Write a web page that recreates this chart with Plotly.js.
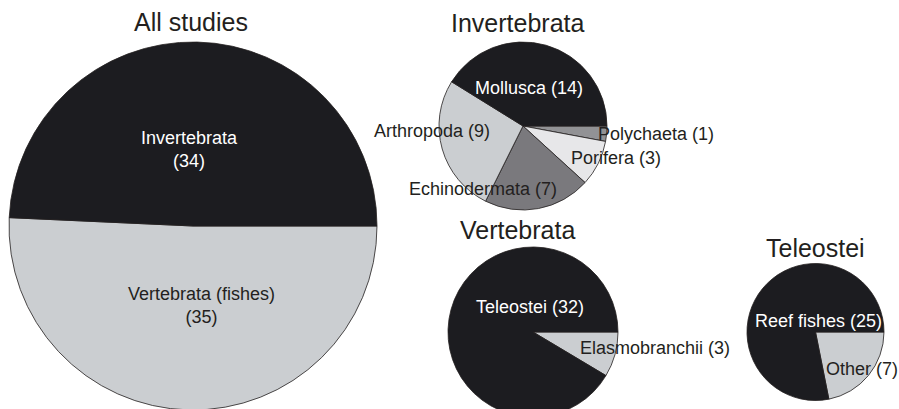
<!DOCTYPE html>
<html>
<head>
<meta charset="utf-8">
<script src="https://cdn.plot.ly/plotly-3.0.1.min.js"></script>
<style>
  html, body { margin: 0; padding: 0; background: #ffffff; overflow: hidden; }
  #chart { width: 899px; height: 430px; }
</style>
</head>
<body>
<div id="chart"></div>
<script>
// ---- data ----
const pieTitles = ['All studies', 'Invertebrata', 'Vertebrata', 'Teleostei'];

const allLabels = ['Invertebrata', 'Vertebrata (fishes)'];
const allValues = [34, 35];

const invLabels = ['Mollusca', 'Arthropoda', 'Echinodermata', 'Porifera', 'Polychaeta'];
const invValues = [14, 9, 7, 3, 1];

const vertLabels = ['Teleostei', 'Elasmobranchii'];
const vertValues = [32, 3];

const teleLabels = ['Reef fishes', 'Other'];
const teleValues = [25, 7];

// ---- styles / geometry (pixels) ----
const W = 899, H = 430;
const BLACK = '#1c1c20', LIGHT = '#cbced1', DARK = '#7a797d', PALE = '#e7e7e9', MID = '#929295';
const INK = '#231f20';
const FONT = 'Liberation Sans, Arial, Helvetica, sans-serif';

const pies = [
  { labels: allLabels,  values: allValues,  colors: [BLACK, LIGHT], cx: 193, cy: 226, r: 184,
    title: { x: 191, y: 22 },
    textPos: [{ x: 189, y: 150, c: '#ffffff', twoLine: true }, { x: 201, y: 305, c: INK, twoLine: true }] },
  { labels: invLabels,  values: invValues,  colors: [BLACK, LIGHT, DARK, PALE, MID], cx: 523, cy: 126, r: 84,
    title: { x: 518, y: 23 },
    textPos: [{ x: 529, y: 88, c: '#ffffff' }, { x: 432, y: 131, c: INK }, { x: 483, y: 189, c: INK },
              { x: 616, y: 158, c: INK }, { x: 656, y: 134, c: INK }] },
  { labels: vertLabels, values: vertValues, colors: [BLACK, LIGHT], cx: 533, cy: 332, r: 85,
    title: { x: 517, y: 230 },
    textPos: [{ x: 530, y: 307, c: '#ffffff' }, { x: 655, y: 348, c: INK }] },
  { labels: teleLabels, values: teleValues, colors: [BLACK, LIGHT], cx: 815.5, cy: 332, r: 68.5,
    title: { x: 815, y: 248 },
    textPos: [{ x: 818, y: 321, c: '#ffffff' }, { x: 862, y: 369, c: INK }] }
];

const traces = [];
const annotations = [];

pies.forEach((p, i) => {
  // The first slice runs counter-clockwise from 3 o'clock; draw the reversed
  // order clockwise from 3 o'clock to get the same arrangement.
  traces.push({
    type: 'pie',
    labels: p.labels.slice().reverse(),
    values: p.values.slice().reverse(),
    sort: false,
    direction: 'clockwise',
    rotation: 90,
    textinfo: 'none',
    hoverinfo: 'skip',
    showlegend: false,
    marker: { colors: p.colors.slice().reverse(), line: { color: INK, width: 0.8 } },
    domain: {
      x: [(p.cx - p.r) / W, (p.cx + p.r) / W],
      y: [1 - (p.cy + p.r) / H, 1 - (p.cy - p.r) / H]
    }
  });
  annotations.push({
    text: pieTitles[i], xref: 'paper', yref: 'paper',
    x: p.title.x / W, y: 1 - p.title.y / H, xanchor: 'center', yanchor: 'middle',
    showarrow: false, font: { family: FONT, size: 25, color: INK }
  });
  p.labels.forEach((lab, j) => {
    const tp = p.textPos[j];
    const txt = tp.twoLine ? lab + '<br>(' + p.values[j] + ')' : lab + ' (' + p.values[j] + ')';
    annotations.push({
      text: txt, xref: 'paper', yref: 'paper',
      x: tp.x / W, y: 1 - tp.y / H, xanchor: 'center', yanchor: 'middle',
      showarrow: false, font: { family: FONT, size: 18, color: tp.c }
    });
  });
});

const layout = {
  width: W, height: H,
  margin: { l: 0, r: 0, t: 0, b: 0 },
  paper_bgcolor: '#ffffff',
  plot_bgcolor: '#ffffff',
  annotations: annotations
};

Plotly.newPlot('chart', traces, layout, { displayModeBar: false, staticPlot: true });
</script>
</body>
</html>
